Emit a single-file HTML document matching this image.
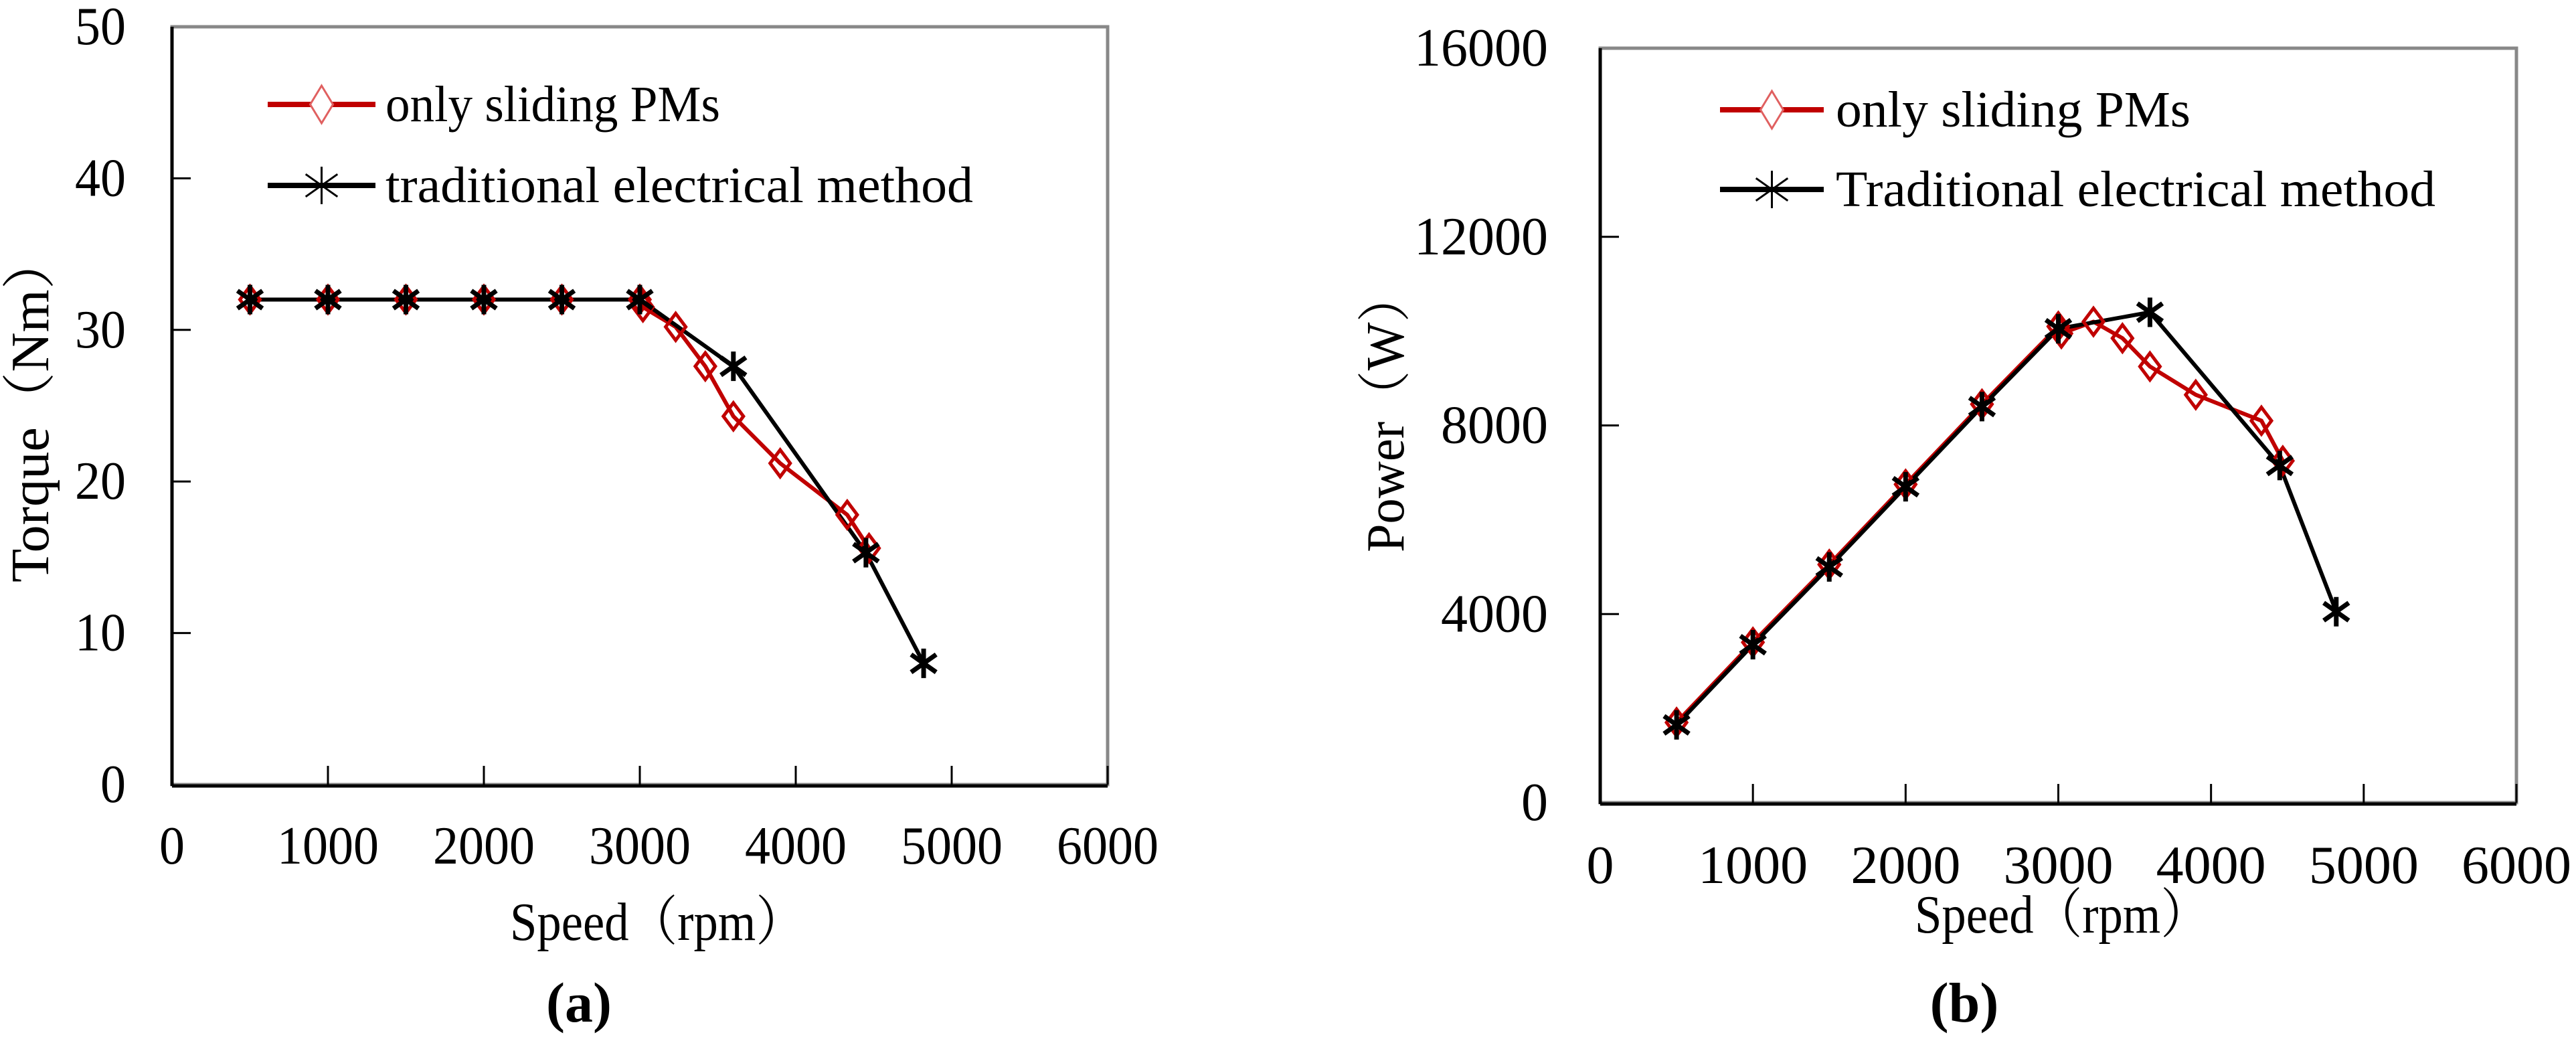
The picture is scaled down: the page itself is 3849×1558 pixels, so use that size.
<!DOCTYPE html>
<html><head><meta charset="utf-8"><style>
html,body{margin:0;padding:0;background:#fff}
svg{display:block}
text{font-family:"Liberation Serif","Noto Serif CJK SC",serif;fill:#000}
</style></head><body>
<svg id="fig" width="3849" height="1558" viewBox="0 0 3849 1558" xmlns="http://www.w3.org/2000/svg"></svg>
<script>
const xTicks=[0,1000,2000,3000,4000,5000,6000];
const torqueTicks=[0,10,20,30,40,50];
const powerTicks=[0,4000,8000,12000,16000];
const tradSpeed=[500,1000,1500,2000,2500,3000,3600,4450,4820];
const tradTorque=[32,32,32,32,32,32,27.6,15.3,8];
const slideSpeed=[500,1000,1500,2000,2500,3000,3020,3230,3420,3600,3900,4330,4470];
const slideTorque=[32,32,32,32,32,32,31.5,30.2,27.6,24.3,21.2,17.8,15.6];
const tradPower=[1650,3350,5000,6700,8400,10050,10400,7150,4050];
const slidePower=[1700,3400,5050,6750,8450,10100,9950,10200,9850,9250,8650,8100,7250];

const NS="http://www.w3.org/2000/svg";
const svg=document.getElementById('fig');
function mk(tag,attrs,parent){const e=document.createElementNS(NS,tag);for(const k in attrs)e.setAttribute(k,attrs[k]);(parent||svg).appendChild(e);return e;}

function chart(cfg){
  const g=mk('g',{});
  
  
  const sx=v=>cfg.x0+(v-0)/6000*(cfg.x1-cfg.x0);
  const sy=v=>cfg.y1-(v-0)/cfg.ymax*(cfg.y1-cfg.y0);
  // frame
  const fr=mk('rect',{x:cfg.x0,y:cfg.y0,width:cfg.x1-cfg.x0,height:cfg.y1-cfg.y0,fill:'none',stroke:'#888',"stroke-width":5},g);
  
  
  const ya=mk('line',{x1:cfg.x0,y1:cfg.y0,x2:cfg.x0,y2:cfg.y1+2,stroke:'#000',"stroke-width":5},g);
  
  
  const xa=mk('line',{x1:cfg.x0,y1:cfg.y1+2,x2:cfg.x1,y2:cfg.y1+2,stroke:'#000',"stroke-width":5},g);
  
  
  xTicks.forEach(v=>{
    const x=sx(v);
    if(v>0){const t=mk('line',{x1:x,y1:cfg.y1,x2:x,y2:cfg.y1-28,stroke:'#000',"stroke-width":3},g);
      
      }
    const s=String(v);
    const tx=mk('text',{x:x,y:cfg.xLabY,"font-size":80,"text-anchor":"middle","dominant-baseline":"central",textLength:s.length*cfg.digitW,lengthAdjust:'spacingAndGlyphs'},g);
    tx.textContent=s;
    
    
  });
  cfg.yTicks.forEach(v=>{
    const y=sy(v);
    if(v>0&&v<cfg.ymax){const t=mk('line',{x1:cfg.x0,y1:y,x2:cfg.x0+28,y2:y,stroke:'#000',"stroke-width":3},g);
      
      }
    const s=String(v);
    const tx=mk('text',{x:cfg.yLabR,y:y,"font-size":80,"text-anchor":"end","dominant-baseline":"central",textLength:s.length*cfg.ydigitW,lengthAdjust:'spacingAndGlyphs'},g);
    tx.textContent=s;
    
    
  });
  // series
  function line(xs,ys,color,name){
    const p=mk('polyline',{points:xs.map((x,i)=>sx(x)+','+sy(ys[i])).join(' '),fill:'none',stroke:color,"stroke-width":6,"stroke-linejoin":"round"},g);
    
    
  }
  function diamond(x,y,r,parent){return mk('polygon',{points:`${x},${y-r} ${x+r*0.75},${y} ${x},${y+r} ${x-r*0.75},${y}`,fill:'none',stroke:'#c00000',"stroke-width":5},parent);}
  function star(x,y,r,w,parent){const gg=mk('g',{stroke:'#000',"stroke-width":w},parent);
    mk('line',{x1:x,y1:y-r,x2:x,y2:y+r},gg);
    mk('line',{x1:x-r*0.85,y1:y-r*0.6,x2:x+r*0.85,y2:y+r*0.6},gg);
    mk('line',{x1:x-r*0.85,y1:y+r*0.6,x2:x+r*0.85,y2:y-r*0.6},gg);
    return gg;}
  line(slideSpeed,cfg.slide,'#c00000','series-only-sliding-pms');
  line(tradSpeed,cfg.trad,'#000','series-traditional');
  slideSpeed.forEach((v,i)=>{const d=diamond(sx(v),sy(cfg.slide[i]),20,g);
    
    });
  tradSpeed.forEach((v,i)=>{const s=star(sx(v),sy(cfg.trad[i]),22,7,g);
    
    });
  // legend
  const lg=mk('g',{},g);
  
  
  mk('line',{x1:cfg.lx0,y1:cfg.ly1,x2:cfg.lx1,y2:cfg.ly1,stroke:'#c00000',"stroke-width":8},lg);
  const ld=mk('polygon',{points:`${(cfg.lx0+cfg.lx1)/2},${cfg.ly1-28} ${(cfg.lx0+cfg.lx1)/2+17},${cfg.ly1} ${(cfg.lx0+cfg.lx1)/2},${cfg.ly1+28} ${(cfg.lx0+cfg.lx1)/2-17},${cfg.ly1}`,fill:'#fff',stroke:'#e06060',"stroke-width":3},lg);
  const t1=mk('text',{x:cfg.ltx,y:cfg.ly1,"font-size":76,"dominant-baseline":"central",textLength:cfg.l1w,lengthAdjust:'spacingAndGlyphs'},lg);
  t1.textContent='only sliding PMs';
  
  
  mk('line',{x1:cfg.lx0,y1:cfg.ly2,x2:cfg.lx1,y2:cfg.ly2,stroke:'#000',"stroke-width":8},lg);
  star((cfg.lx0+cfg.lx1)/2,cfg.ly2,28,3,lg);
  const t2=mk('text',{x:cfg.ltx,y:cfg.ly2,"font-size":76,"dominant-baseline":"central",textLength:cfg.l2w,lengthAdjust:'spacingAndGlyphs'},lg);
  t2.textContent=cfg.l2;
  
  
  // titles
  const xt=mk('text',{x:cfg.xtX,y:cfg.xtY,"font-size":80,"text-anchor":"middle","dominant-baseline":"central",textLength:440,lengthAdjust:'spacingAndGlyphs'},g);
  xt.textContent='Speed（rpm）';
  
  
  const yt=mk('text',{x:0,y:0,"font-size":80,"text-anchor":"middle","dominant-baseline":"central",transform:`translate(${cfg.ytX},${cfg.ytY}) rotate(-90)`,textLength:cfg.ytW,lengthAdjust:'spacingAndGlyphs'},g);
  yt.textContent=cfg.ytitle;
  
  
  const pl=mk('text',{x:cfg.pX,y:1498,"font-size":84,"text-anchor":"middle","dominant-baseline":"central","font-weight":"bold"},g);
  pl.innerHTML='(<tspan>'+cfg.panel+'</tspan>)';
  
  
}

chart({name:'torque-chart',x0:257,x1:1655,y0:40,y1:1172,ymax:50,yTicks:torqueTicks,
  trad:tradTorque,slide:slideTorque,xLabY:1264,digitW:38,yLabR:188,ydigitW:38,
  lx0:400,lx1:561,ly1:156,ly2:277,ltx:576,l1w:500,l2w:878,l2:'traditional electrical method',
  xtX:982,xtY:1378,ytX:46,ytY:610,ytitle:'Torque（Nm）',ytW:520,pX:865,panel:'a'});
chart({name:'power-chart',x0:2391,x1:3760,y0:72,y1:1199,ymax:16000,yTicks:powerTicks,
  trad:tradPower,slide:slidePower,xLabY:1293,digitW:41,yLabR:2313,ydigitW:40,
  lx0:2570,lx1:2725,ly1:164,ly2:283,ltx:2743,l1w:530,l2w:896,l2:'Traditional electrical method',
  xtX:3081,xtY:1367,ytX:2071,ytY:615,ytitle:'Power（W）',ytW:420,pX:2935,panel:'b'});
</script>
</body></html>
